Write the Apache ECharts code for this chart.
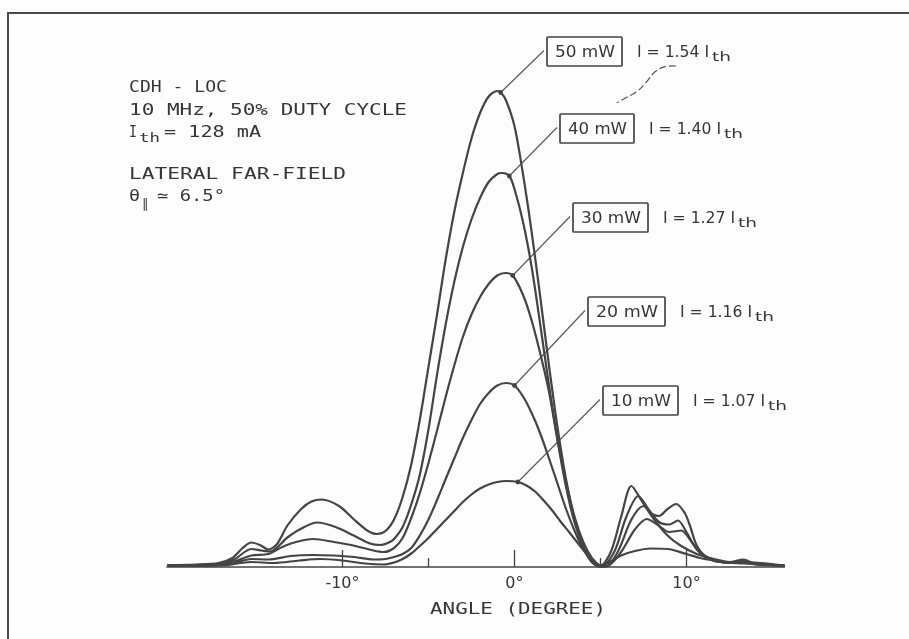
<!DOCTYPE html>
<html>
<head>
<meta charset="utf-8">
<script src="https://cdn.jsdelivr.net/npm/echarts@6/dist/echarts.min.js"></script>
<style>
html,body{margin:0;padding:0;background:#fdfdfd;}
#main{width:909px;height:639px;}
</style>
</head>
<body>
<div id="main"></div>
<script>
// ---- data (angle in degrees, relative intensity) ----
const seriesNames = ['50 mW', '40 mW', '30 mW', '20 mW', '10 mW'];
const currentRatios = ['1.54', '1.40', '1.27', '1.16', '1.07'];

const curve50mW = [
  [-20.2,0.4],[-18.5,0.5],[-17.2,0.8],[-16.4,1.8],[-15.8,3.8],[-15.3,4.9],[-14.8,4.4],[-14.3,3.5],[-13.8,4.6],[-13.2,8.3],
  [-12.4,11.6],[-11.8,13.1],[-11.2,13.5],[-10.2,12.2],[-9.36,9.6],[-8.56,7.3],[-8.0,6.6],[-7.5,7.2],[-7.0,9.5],[-6.5,14],
  [-6.0,20.5],[-5.5,29.5],[-5.0,40],[-4.5,50.5],[-4.0,61.5],[-3.5,71],[-3.0,78.8],[-2.5,85.7],[-2.0,90.8],[-1.5,94.1],
  [-1.0,95.2],[-0.8,94.9],[-0.5,93.4],[0,88.2],[0.5,78.5],[1.0,67],[1.5,54],[2.0,40.5],[2.5,28],[3.0,17.5],
  [3.5,9.5],[4.0,4.2],[4.5,1.0],[4.95,0.1],[5.6,3],[6.2,10],[6.8,16.2],[7.4,13.2],[8.1,9.6],[8.9,6.3],
  [9.65,4.3],[10.6,2.6],[11.6,1.6],[12.5,1.0],[13.3,1.5],[14.0,0.6],[15.7,0.3]
];
const curve40mW = [
  [-20.2,0.3],[-18.5,0.4],[-17.2,0.6],[-16.3,1.5],[-15.3,3.6],[-14.7,3.3],[-14.2,3.1],[-13.2,5.9],[-12.44,7.6],[-11.47,8.9],
  [-10.4,8.0],[-9.34,6.3],[-8.4,4.7],[-7.8,4.4],[-7.3,4.9],[-7.0,5.6],[-6.5,8.0],[-6.0,12.5],[-5.5,18.5],[-5.0,27.5],
  [-4.5,38.5],[-4.0,48.5],[-3.5,57],[-3.0,64],[-2.5,69.5],[-2.0,73.8],[-1.5,77],[-1.0,78.6],[-0.74,78.8],[-0.3,78.2],
  [0,75.6],[0.5,69],[1.0,60],[1.5,48.5],[2.0,36.5],[2.5,25.5],[3.0,16],[3.5,8.8],[4.0,4.0],[4.5,1.0],
  [5.05,0.1],[5.8,3],[6.5,10],[7.2,14.2],[7.8,11.5],[8.4,9.0],[9.0,8.5],[9.5,9.3],[10.0,7.0],[10.6,3.5],
  [11.3,1.8],[12.5,0.8],[13.3,1.2],[14.0,0.5],[15.7,0.3]
];
const curve30mW = [
  [-20.2,0.3],[-18.5,0.3],[-17.2,0.5],[-16.2,1.2],[-15.3,2.3],[-14.3,2.6],[-13.5,4.0],[-12.8,4.9],[-11.7,5.6],[-10.5,5.0],
  [-9.36,4.3],[-8.2,3.3],[-7.6,3.0],[-7.0,3.8],[-6.5,5.8],[-6.0,9.8],[-5.5,14.8],[-5.0,20.8],[-4.5,27.3],[-4.0,34],
  [-3.5,40.3],[-3.0,46],[-2.5,50.5],[-2.0,54],[-1.5,56.6],[-1.0,58.3],[-0.52,58.8],[-0.1,58.3],[0.5,54.4],[1.0,49.3],
  [1.5,42.7],[2.0,35.2],[2.5,25.5],[3.0,17],[3.5,10],[4.0,5.0],[4.5,1.8],[5.0,0.2],[5.3,0.05],[6.0,3],
  [6.8,9.5],[7.5,12.2],[8.0,10.6],[8.4,10.2],[8.9,11.6],[9.4,12.6],[9.9,10.8],[10.2,8.3],[10.6,4.3],[11.2,1.9],
  [12.0,1.0],[13.3,0.9],[15.7,0.3]
];
const curve20mW = [
  [-20.2,0.2],[-18,0.3],[-16.5,0.6],[-15.3,1.6],[-14.3,1.5],[-13.0,2.2],[-11.7,2.4],[-10.5,2.3],[-9.3,2.0],[-8.2,1.5],
  [-7.5,1.6],[-7.0,2.0],[-6.5,2.6],[-6.0,3.8],[-5.5,6.3],[-5.0,9.5],[-4.5,13.4],[-4.0,17.6],[-3.5,21.7],[-3.0,25.8],
  [-2.5,29.4],[-2.0,32.6],[-1.5,34.8],[-1.0,36.3],[-0.47,36.8],[0,36.3],[0.5,34.1],[1.0,30.8],[1.5,26.7],[2.0,21.8],
  [2.5,16.7],[3.0,11.6],[3.5,7.2],[4.0,3.6],[4.5,1.1],[5.0,0.15],[5.4,0.2],[6.2,3.0],[7.0,7.5],[7.7,9.6],
  [8.3,8.5],[9.0,7.0],[9.7,7.3],[10.3,5.0],[11.0,2.2],[12.0,1.0],[13.3,0.7],[15.7,0.3]
];
const curve10mW = [
  [-20.2,0.2],[-17,0.3],[-15.3,1.0],[-14.0,0.8],[-12.5,1.3],[-11.3,1.6],[-10.0,1.3],[-8.7,0.7],[-7.6,0.5],[-7.0,0.9],
  [-6.5,1.6],[-6.0,2.7],[-5.5,4.2],[-5.0,5.8],[-4.5,7.6],[-4.0,9.4],[-3.5,11.2],[-3.0,13.0],[-2.5,14.5],[-2.0,15.7],
  [-1.5,16.5],[-1.0,17.0],[-0.47,17.2],[0.2,17.0],[0.7,16.3],[1.2,15.1],[1.7,13.3],[2.2,11.3],[2.7,9.0],[3.2,6.9],
  [3.7,4.7],[4.2,2.6],[4.8,0.4],[5.3,0.6],[6.2,2.3],[7.0,3.2],[7.9,3.7],[8.9,3.6],[10.0,2.6],[10.8,1.8],
  [11.6,1.3],[12.5,0.8],[13.3,1.0],[15.7,0.3]
];
const curves = [curve50mW, curve40mW, curve30mW, curve20mW, curve10mW];

// angle of the data point each label's leader points to
const leaderAngles = [-0.8, -0.3, -0.1, 0, 0.2];

const majorTicks = [-10, 0, 10];
const minorTicks = [-5, 5];

// ---- layout ----
const INK = '#444444';
const TXT = '#363636';
const FONT = 'DejaVu Sans';
const MONO = 'DejaVu Sans Mono';
const boxes = [[547,37,75,29],[560,114,74,29],[573,203,75,29],[588,297,77,29],[603,386,75,29]];

const chart = echarts.init(document.getElementById('main'), null, {renderer: 'canvas'});

const series = curves.map((c, i) => ({
  name: seriesNames[i],
  type: 'line',
  data: c,
  smooth: 0.3,
  showSymbol: false,
  symbol: 'none',
  lineStyle: {color: INK, width: 2.2},
  silent: true,
  z: 5
}));

chart.setOption({
  backgroundColor: '#fdfdfd',
  animation: false,
  grid: {left: 167, right: 124.5, top: 67, bottom: 72},
  xAxis: [{
    type: 'value', min: -20.2, max: 15.7, position: 'bottom',
    splitLine: {show: false},
    axisLine: {show: true, lineStyle: {color: INK, width: 1.5}},
    axisTick: {show: true, inside: true, length: 17, customValues: majorTicks, lineStyle: {color: INK, width: 1.3}},
    axisLabel: {show: true, customValues: majorTicks, formatter: v => v + '°', color: TXT,
      fontFamily: FONT, fontSize: 16, margin: 9}
  }, {
    type: 'value', min: -20.2, max: 15.7, position: 'bottom', offset: 0,
    splitLine: {show: false},
    axisLine: {show: false},
    axisTick: {show: true, inside: true, length: 9, customValues: minorTicks, lineStyle: {color: INK, width: 1.3}},
    axisLabel: {show: false}
  }],
  yAxis: {type: 'value', min: 0, max: 100, show: false},
  series: series
});

// ---- annotations ----
const measureCtx = document.createElement('canvas').getContext('2d');
function fitText(x, y, s, size, targetW, fam) {
  const font = size + 'px "' + (fam || MONO) + '"';
  measureCtx.font = font;
  const w = measureCtx.measureText(s).width;
  const sx = targetW ? targetW / w : 1;
  return {type: 'text', x: x, y: y, scaleX: sx, silent: true,
    style: {text: s, fill: TXT, font: font, textVerticalAlign: 'middle'}};
}

const g = [];
g.push({type: 'rect', shape: {x: 8, y: 13, width: 1000, height: 700},
  style: {fill: 'none', stroke: '#4a4a4a', lineWidth: 2}, silent: true});

// top-left text block
g.push(fitText(129, 88, 'CDH - LOC', 16, 98));
g.push(fitText(129, 111, '10 MHz, 50% DUTY CYCLE', 16, 278));
g.push(fitText(129, 133, 'I', 16, 8));
g.push(fitText(139, 139, 'th', 13, 21));
g.push(fitText(164, 133, '= 128 mA', 16, 97));
g.push(fitText(129, 175, 'LATERAL FAR-FIELD', 16, 217));
g.push(fitText(129, 197, 'θ', 16, 11));
g.push(fitText(142, 205, '∥', 13, 7));
g.push(fitText(157, 197, '≃ 6.5°', 16, 68));

// axis title
g.push(fitText(430, 610, 'ANGLE (DEGREE)', 16, 176));

boxes.forEach((b, i) => {
  const [bx, by, bw, bh] = b;
  g.push({type: 'rect', shape: {x: bx, y: by, width: bw, height: bh, r: 1}, silent: true,
    style: {fill: '#fdfdfd', stroke: '#444', lineWidth: 1.7}});
  g.push(fitText(bx + 8, by + bh / 2 + 1, seriesNames[i], 16, bw - 15, FONT));
  const tx = bx + bw + 15;
  g.push(fitText(tx, by + bh / 2 + 1, 'I = ' + currentRatios[i] + ' I', 16, 72, FONT));
  g.push(fitText(tx + 75, by + bh / 2 + 6, 'th', 13, 19, FONT));
  const c = curves[i];
  const pt = c.find(p => p[0] === leaderAngles[i]);
  const p = chart.convertToPixel({seriesIndex: i}, pt);
  g.push({type: 'line', silent: true, shape: {x1: p[0], y1: p[1], x2: bx - 3, y2: by + bh / 2 - 1},
    style: {stroke: '#555', lineWidth: 1.1}});
  g.push({type: 'circle', silent: true, shape: {cx: p[0], cy: p[1], r: 2.4}, style: {fill: '#444'}});
});

// dashed swoosh near top label
g.push({type: 'polyline', silent: true,
  shape: {points: [[676,66],[665,66.7],[655,71.7],[646.7,81.7],[636.7,91.7],[625,98.3],[616.7,102.7]], smooth: 0.4},
  style: {stroke: '#555', lineWidth: 1.2, lineDash: [7, 3], fill: 'none'}});

chart.setOption({graphic: g});
</script>
</body>
</html>
